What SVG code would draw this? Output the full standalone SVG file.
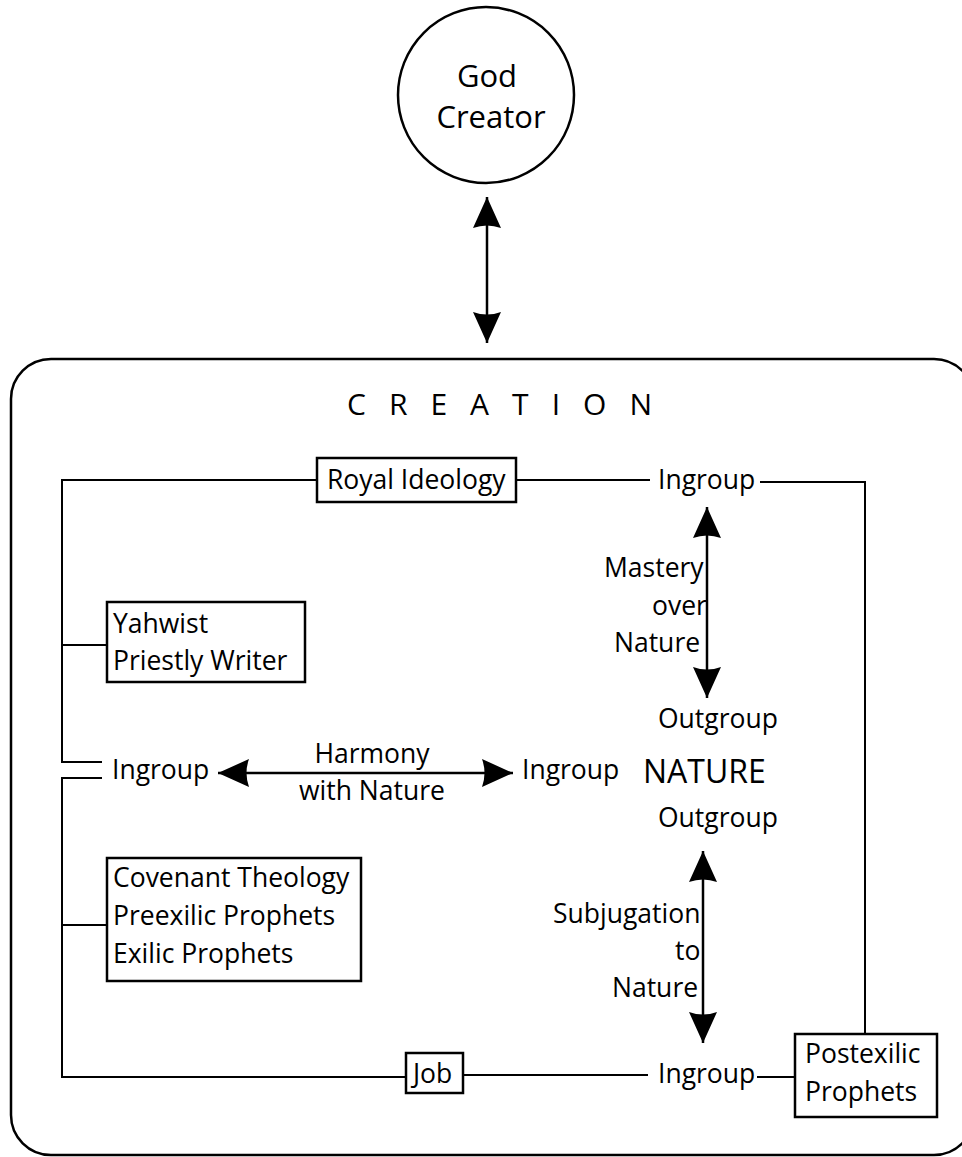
<svg xmlns="http://www.w3.org/2000/svg" width="962" height="1157" viewBox="0 0 962 1157">
<style>
text{font-family:"Open Sans","DejaVu Sans",sans-serif;fill:#000;}
.lbl{font-size:26.5px;}
.box{fill:#fff;stroke:#000;stroke-width:2.5;}
.ln{fill:none;stroke:#000;stroke-width:2;}
.ar{fill:none;stroke:#000;stroke-width:2.5;marker-start:url(#ah);marker-end:url(#ah);}
</style>
<defs>
<marker id="ah" markerUnits="userSpaceOnUse" viewBox="0 0 31 28" markerWidth="31" markerHeight="28" refX="31" refY="14" orient="auto-start-reverse">
<path d="M31,14 L0,0 Q5,14 0,28 Z" fill="#000"/>
</marker>
</defs>
<rect width="962" height="1157" fill="#fff"/>

<g id="creation">
<rect x="11" y="359" width="963" height="796" rx="40" ry="40" fill="none" stroke="#000" stroke-width="2.5"/>
<text x="347" y="415" font-size="30" textLength="305" lengthAdjust="spacing">C R E A T I O N</text>
</g>

<g id="connectors">
<line class="ar" x1="487" y1="197" x2="487" y2="343"/>
<polyline class="ln" points="317,480 62,480 62,762 102,762"/>
<polyline class="ln" points="102,778 62,778 62,1077 406,1077"/>
<line class="ln" x1="62" y1="645" x2="107" y2="645"/>
<line class="ln" x1="62" y1="925" x2="107" y2="925"/>
<line class="ln" x1="516" y1="480" x2="650" y2="480"/>
<polyline class="ln" points="760,482 865,482 865,1034"/>
<line class="ln" x1="463" y1="1075" x2="648" y2="1075"/>
<line class="ln" x1="757" y1="1077" x2="795" y2="1077"/>
<line class="ar" x1="218" y1="773" x2="513" y2="773"/>
<line class="ar" x1="707" y1="507" x2="707" y2="698"/>
<line class="ar" x1="703" y1="851" x2="703" y2="1043"/>
</g>

<g id="god">
<circle cx="486" cy="95" r="88" fill="#fff" stroke="#000" stroke-width="2.5"/>
<text x="487" y="87" font-size="31" text-anchor="middle">God</text>
<text x="491" y="128" font-size="31" text-anchor="middle">Creator</text>
</g>

<g id="royal">
<rect class="box" x="317" y="458" width="199" height="44"/>
<text class="lbl" x="327" y="489">Royal Ideology</text>
</g>

<g id="ingroup-top">
<text class="lbl" x="658" y="489">Ingroup</text>
</g>

<g id="yahwist">
<rect class="box" x="107" y="602" width="198" height="80"/>
<text class="lbl" x="113" y="633">Yahwist</text>
<text class="lbl" x="113" y="670">Priestly Writer</text>
</g>

<g id="ingroup-left">
<text class="lbl" x="112" y="779">Ingroup</text>
</g>

<g id="harmony-label">
<text class="lbl" x="372" y="763" text-anchor="middle">Harmony</text>
<text class="lbl" x="372" y="800" text-anchor="middle">with Nature</text>
</g>

<g id="ingroup-mid">
<text class="lbl" x="522" y="779">Ingroup</text>
</g>

<g id="nature">
<text x="643" y="783" font-size="32">NATURE</text>
</g>

<g id="outgroup-top">
<text class="lbl" x="658" y="728">Outgroup</text>
</g>

<g id="outgroup-bottom">
<text class="lbl" x="658" y="827">Outgroup</text>
</g>

<g id="mastery-label">
<text class="lbl" x="604" y="577">Mastery</text>
<text class="lbl" x="652" y="615">over</text>
<text class="lbl" x="614" y="652">Nature</text>
</g>

<g id="subjugation-label">
<text class="lbl" x="553" y="923">Subjugation</text>
<text class="lbl" x="675" y="960">to</text>
<text class="lbl" x="612" y="997">Nature</text>
</g>

<g id="covenant">
<rect class="box" x="107" y="858" width="254" height="123"/>
<text class="lbl" x="113" y="887">Covenant Theology</text>
<text class="lbl" x="113" y="925">Preexilic Prophets</text>
<text class="lbl" x="113" y="963">Exilic Prophets</text>
</g>

<g id="job">
<rect class="box" x="406" y="1053" width="57" height="40"/>
<text class="lbl" x="413" y="1083">Job</text>
</g>

<g id="ingroup-bottom">
<text class="lbl" x="658" y="1083">Ingroup</text>
</g>

<g id="postexilic">
<rect class="box" x="795" y="1034" width="142" height="83"/>
<text class="lbl" x="805" y="1063">Postexilic</text>
<text class="lbl" x="805" y="1101">Prophets</text>
</g>
</svg>
